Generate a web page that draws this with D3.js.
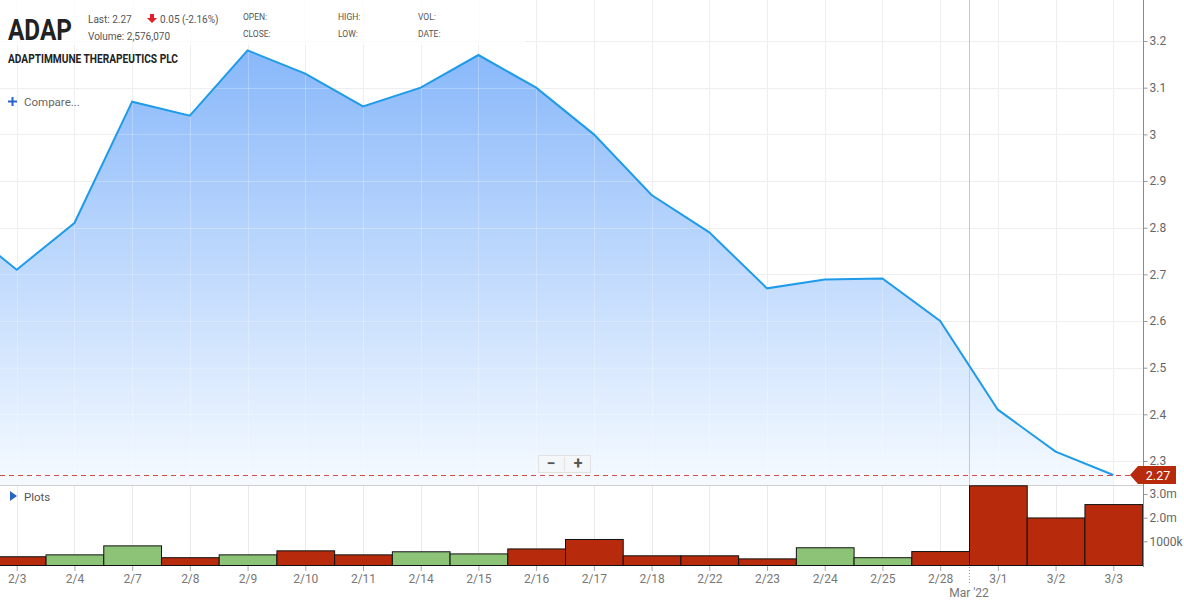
<!DOCTYPE html>
<html><head><meta charset="utf-8">
<script src="https://cdn.jsdelivr.net/npm/d3@7"></script>
<style>
html,body{margin:0;padding:0;background:#fff;}
svg{display:block;font-family:Roboto,"Open Sans",sans-serif;}
</style></head><body>
<svg id="c" width="1184" height="603"></svg>
<script>
// ---- data ----
const dates = ["2/2","2/3","2/4","2/7","2/8","2/9","2/10","2/11","2/14","2/15","2/16","2/17","2/18","2/22","2/23","2/24","2/25","2/28","3/1","3/2","3/3"];
const closes = [2.81,2.71,2.81,3.07,3.04,3.18,3.13,3.06,3.10,3.17,3.10,3.00,2.87,2.79,2.67,2.689,2.691,2.60,2.41,2.32,2.27];
const volumes = [500000,370000,450000,830000,330000,450000,620000,450000,580000,490000,700000,1100000,410000,410000,280000,750000,330000,590000,3370000,2010000,2576070];
const priceTicks = [2.3,2.4,2.5,2.6,2.7,2.8,2.9,3.0,3.1,3.2];
const priceTickLabels = ["2.3","2.4","2.5","2.6","2.7","2.8","2.9","3","3.1","3.2"];
const volTicks = [1000000,2000000,3000000];
const volTickLabels = ["1000k","2.0m","3.0m"];
const lastPrice = 2.27;
const monthBreakIndex = 17.5; // between 2/28 and 3/1
const monthLabel = "Mar '22";

// ---- layout ----
const svg = d3.select("#c");
const axisX = 1143, priceTop = 0, priceBottom = 485, volBottom = 566;
const idx = dates.map((d,i)=>i);
const x = d3.scaleLinear().domain([0, dates.length-1]).range([16.7-57.72, 1113.3]);
const y = d3.scaleLinear().domain([2.2486, 3.2879]).range([priceBottom, priceTop]);
const yv = d3.scaleLinear().domain([0, 3370000]).range([565, 485.3]);
const data = dates.map((d,i)=>({d, i, c:closes[i], v:volumes[i], up: i>0 ? closes[i] >= closes[i-1] : true}));

const defs = svg.append("defs");
defs.append("clipPath").attr("id","pclip").append("rect").attr("x",0).attr("y",priceTop).attr("width",axisX).attr("height",priceBottom-priceTop);
defs.append("clipPath").attr("id","vclip").append("rect").attr("x",0).attr("y",priceBottom).attr("width",axisX).attr("height",volBottom-priceBottom);
const g = defs.append("linearGradient").attr("id","fillg").attr("gradientUnits","userSpaceOnUse")
  .attr("x1",0).attr("x2",0).attr("y1",40).attr("y2",priceBottom);
g.append("stop").attr("offset",0).attr("stop-color","#86b6fa");
g.append("stop").attr("offset",0.55).attr("stop-color","#c4dcfd");
g.append("stop").attr("offset",1).attr("stop-color","#f5faff");

// vertical grid
const grid = svg.append("g");
grid.selectAll("line.vg").data(data.slice(1)).join("line")
  .attr("x1",d=>Math.round(x(d.i))+0.5).attr("x2",d=>Math.round(x(d.i))+0.5).attr("y1",0).attr("y2",volBottom)
  .attr("stroke","#e9e9e9").attr("stroke-width",1);
grid.selectAll("line.hg").data(priceTicks).join("line")
  .attr("x1",0).attr("x2",axisX).attr("y1",d=>Math.round(y(d))+0.5).attr("y2",d=>Math.round(y(d))+0.5)
  .attr("stroke","#e9e9e9");

// area + line
const pg = svg.append("g").attr("clip-path","url(#pclip)");
pg.append("path").datum(data)
  .attr("d", d3.area().x(d=>x(d.i)).y0(priceBottom).y1(d=>y(d.c)))
  .attr("fill","url(#fillg)");
pg.selectAll("line.vg2").data(data.slice(1)).join("line")
  .attr("x1",d=>Math.round(x(d.i))+0.5).attr("x2",d=>Math.round(x(d.i))+0.5).attr("y1",0).attr("y2",priceBottom)
  .attr("stroke","#ffffff").attr("stroke-opacity",0.25);
pg.selectAll("line.hg2").data(priceTicks).join("line")
  .attr("x1",0).attr("x2",axisX).attr("y1",d=>Math.round(y(d))+0.5).attr("y2",d=>Math.round(y(d))+0.5)
  .attr("stroke","#ffffff").attr("stroke-opacity",0.25);
pg.append("line").attr("x1",Math.round(x(monthBreakIndex))+0.5).attr("x2",Math.round(x(monthBreakIndex))+0.5)
  .attr("y1",0).attr("y2",priceBottom).attr("stroke","#c8c8c8");
pg.append("path").datum(data)
  .attr("d", d3.line().x(d=>x(d.i)).y(d=>y(d.c)))
  .attr("fill","none").attr("stroke","#1e9be9").attr("stroke-width",2);

// last price dashed line
svg.append("line").attr("x1",0).attr("x2",1130).attr("y1",Math.round(y(lastPrice))+0.5).attr("y2",Math.round(y(lastPrice))+0.5)
  .attr("stroke","#d24a4a").attr("stroke-dasharray","5,4").attr("stroke-width",1);

// panel separator
svg.append("line").attr("x1",0).attr("x2",axisX).attr("y1",priceBottom+0.5).attr("y2",priceBottom+0.5).attr("stroke","#cfcfcf");

// volume bars
const step = x(1)-x(0);
const vg = svg.append("g").attr("clip-path","url(#vclip)");
vg.selectAll("rect").data(data).join("rect")
  .attr("x",d=>x(d.i)-step/2+0.5).attr("width",step)
  .attr("y",d=>yv(d.v)+0.5).attr("height",d=>565-yv(d.v))
  .attr("fill",d=>d.up?"#8dc377":"#b72b0c").attr("stroke","#111").attr("stroke-width",1);

// right axis line
svg.append("line").attr("x1",axisX+0.5).attr("x2",axisX+0.5).attr("y1",0).attr("y2",volBottom+1).attr("stroke","#8a8a8a");

const pa = svg.append("g").attr("transform",`translate(${axisX+0.5},0)`)
  .call(d3.axisRight(y).tickValues(priceTicks).tickFormat((d,i)=>priceTickLabels[i]).tickSize(4).tickPadding(2));
pa.select(".domain").remove();
pa.selectAll("line").attr("stroke","#999");
pa.selectAll("text").attr("fill","#666").attr("font-size","12px").attr("font-family","Roboto");

const va = svg.append("g").attr("transform",`translate(${axisX+0.5},0)`)
  .call(d3.axisRight(yv).tickValues(volTicks).tickFormat((d,i)=>volTickLabels[i]).tickSize(4).tickPadding(2));
va.select(".domain").remove();
va.selectAll("line").attr("stroke","#999");
va.selectAll("text").attr("fill","#666").attr("font-size","12px").attr("font-family","Roboto");

const xa = svg.append("g").attr("transform",`translate(0,${volBottom})`)
  .call(d3.axisBottom(x).tickValues(idx.slice(1)).tickFormat(i=>dates[i]).tickSize(5).tickPadding(3));
xa.select(".domain").remove();
xa.selectAll("line").attr("stroke","#aaa");
xa.selectAll("text").attr("fill","#777").attr("font-size","12px").attr("font-family","Roboto");
svg.append("line").attr("x1",Math.round(x(monthBreakIndex))+0.5).attr("x2",Math.round(x(monthBreakIndex))+0.5)
  .attr("y1",volBottom+1).attr("y2",585).attr("stroke","#999").attr("stroke-dasharray","1,2");
svg.append("text").attr("x",x(monthBreakIndex)).attr("y",597).attr("text-anchor","middle")
  .attr("fill","#777").attr("font-size","12px").text(monthLabel);

// last price tag
const ly = y(lastPrice);
svg.append("path").attr("d",`M1130,${ly} L1138,${ly-9} L1176,${ly-9} L1176,${ly+9} L1138,${ly+9} Z`).attr("fill","#b72b0c");
svg.append("text").attr("x",1158).attr("y",ly+4.5).attr("text-anchor","middle").attr("fill","#fff")
  .attr("font-size","12.5px").text(lastPrice.toFixed(2));

// zoom buttons
const zb = svg.append("g");
zb.append("rect").attr("x",538.5).attr("y",455.5).attr("width",52).attr("height",17).attr("fill","#f4f7fa").attr("stroke","#e2e2e2");
zb.append("line").attr("x1",564.5).attr("x2",564.5).attr("y1",457).attr("y2",471).attr("stroke","#e2e2e2");
zb.append("text").attr("x",551).attr("y",469).attr("text-anchor","middle").attr("font-size","16px").attr("font-weight","bold").attr("fill","#555").text("−");
zb.append("text").attr("x",578).attr("y",469).attr("text-anchor","middle").attr("font-size","16px").attr("font-weight","bold").attr("fill","#555").text("+");

// header
svg.append("rect").attr("x",0).attr("y",0).attr("width",525).attr("height",45).attr("fill","#fff").attr("opacity",0.75);
svg.append("text").attr("x",8).attr("y",40).attr("font-family","Roboto,sans-serif")
  .attr("font-weight","bold").attr("font-size","30px").attr("fill","#222")
  .attr("textLength",64).attr("lengthAdjust","spacingAndGlyphs").text("ADAP");
svg.append("text").attr("x",8).attr("y",63).attr("font-family","Roboto,sans-serif")
  .attr("font-weight","bold").attr("font-size","12.5px").attr("fill","#222")
  .attr("textLength",170).attr("lengthAdjust","spacingAndGlyphs").text("ADAPTIMMUNE THERAPEUTICS PLC");
svg.append("text").attr("x",88).attr("y",23).attr("font-size","10px").attr("fill","#555").text("Last: 2.27");
svg.append("text").attr("x",88).attr("y",40).attr("font-size","10px").attr("fill","#555").text("Volume: 2,576,070");
svg.append("path").attr("d","M150,14 L154,14 L154,18 L157,18 L152,23 L147,18 L150,18 Z").attr("fill","#e0202a");
svg.append("text").attr("x",160).attr("y",23).attr("font-size","10px").attr("fill","#555").text("0.05 (-2.16%)");
[["OPEN:",243,20],["CLOSE:",243,37],["HIGH:",338,20],["LOW:",338,37],["VOL:",418,20],["DATE:",418,37]].forEach(t=>{
  svg.append("text").attr("x",t[1]).attr("y",t[2]).attr("font-size","8.5px").attr("fill","#555").text(t[0]);
});
svg.append("path").attr("d","M8,101.5 L17,101.5 M12.5,97 L12.5,106").attr("stroke","#2a64c8").attr("stroke-width",2);
svg.append("text").attr("x",24).attr("y",106).attr("font-size","11.5px").attr("fill","#666").text("Compare...");
svg.append("path").attr("d","M10,491 L17,496 L10,501 Z").attr("fill","#2a64c8");
svg.append("text").attr("x",24).attr("y",501).attr("font-size","11.5px").attr("fill","#555").text("Plots");
</script></body></html>
